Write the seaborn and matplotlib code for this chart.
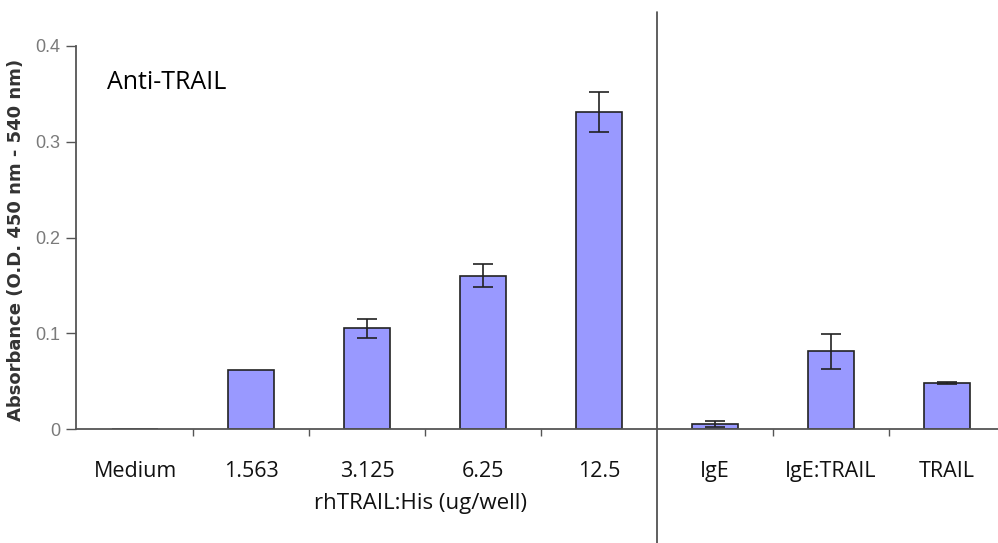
import matplotlib
matplotlib.use("Agg")
import matplotlib.pyplot as plt
import seaborn as sns
import pandas as pd

categories = ["Medium", "1.563", "3.125", "6.25", "12.5", "IgE", "IgE:TRAIL", "TRAIL"]
absorbance = [0.0, 0.062, 0.105, 0.160, 0.331, 0.005, 0.081, 0.048]
errors = [0.0, 0.0, 0.010, 0.012, 0.021, 0.003, 0.018, 0.001]
y_ticks = [0, 0.1, 0.2, 0.3, 0.4]
y_tick_labels = ["0", "0.1", "0.2", "0.3", "0.4"]

sns.set_theme(style="white")
plt.rcParams['font.family'] = ['Open Sans', 'DejaVu Sans']

df = pd.DataFrame({"cat": categories, "val": absorbance})

L, R, B, T = 76, 998, 429, 46
W, H = 998, 543
fig = plt.figure(figsize=(9.98, 5.43), dpi=100)
ax = fig.add_axes([L/W, 1-B/H, (R-L)/W, (B-T)/H])

sns.barplot(data=df, x="cat", y="val", order=categories, color="#9999FF",
            edgecolor="#222222", linewidth=1.2, width=0.4, saturation=1,
            errorbar=None, ax=ax)
xs = list(range(len(categories)))
eb_x = [x for x, e in zip(xs, errors) if e > 0]
eb_y = [v for v, e in zip(absorbance, errors) if e > 0]
eb_e = [e for e in errors if e > 0]
ax.errorbar(eb_x, eb_y, yerr=eb_e, fmt="none", ecolor="#222222",
            elinewidth=1.2, capsize=7, capthick=1.2)

ax.set_xlim(-0.51, 7.44)
ax.set_ylim(0, 0.4)
ax.set_yticks(y_ticks)
ax.set_yticklabels(y_tick_labels, fontsize=13, color="#7a7a7a",
                   family=['Liberation Sans', 'DejaVu Sans'])
ax.tick_params(axis="y", which="major", direction="out", length=7, width=1,
               color="#555555", left=True, pad=4)
ax.set_xticks(xs)
ax.set_xticklabels(categories, fontsize=15.5, color="#111111")
ax.tick_params(axis="x", which="major", length=0, pad=23)
ax.set_xticks([0.5, 1.5, 2.5, 3.5, 5.5, 6.5], minor=True)
ax.tick_params(axis="x", which="minor", direction="out", length=5, width=1,
               color="#555555", bottom=True)

for s in ["top", "right"]:
    ax.spines[s].set_visible(False)
for s in ["left", "bottom"]:
    ax.spines[s].set_color("#555555")
    ax.spines[s].set_linewidth(1.3)

ax.set_xlabel("rhTRAIL:His (ug/well)", fontsize=16, color="#111111")
ax.xaxis.set_label_coords((420-L)/(R-L), -(493-B)/(B-T))
ax.set_ylabel("Absorbance (O.D. 450 nm - 540 nm)", fontsize=13,
              fontweight="bold", color="#333333",
              family=['DejaVu Sans'])
ax.yaxis.set_label_coords(-(L-25)/(R-L), (B-240)/(B-T))

ax.axvline(4.5, ymin=-(H-B)/(B-T), ymax=(B-12)/(B-T), color="#444444",
           linewidth=1.2, clip_on=False)

ax.text(-0.24, 0.362, "Anti-TRAIL", fontsize=18, color="#000000",
        ha="left", va="center")

fig.savefig("out.png", dpi=100)
